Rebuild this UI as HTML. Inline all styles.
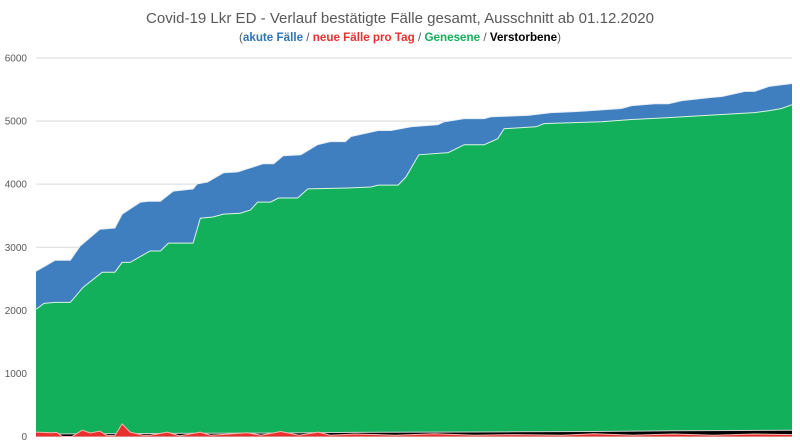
<!DOCTYPE html>
<html><head><meta charset="utf-8"><style>
html,body{margin:0;padding:0;background:#fff;}
svg{display:block;font-family:"Liberation Sans",sans-serif;}
</style></head><body>
<svg id="chart" width="800" height="445" viewBox="0 0 800 445">
<text x="400" y="23" text-anchor="middle" font-size="15" fill="#595959" textLength="508" lengthAdjust="spacingAndGlyphs">Covid-19 Lkr ED - Verlauf bestätigte Fälle gesamt, Ausschnitt ab 01.12.2020</text>
<text x="400" y="41" text-anchor="middle" font-size="12" font-weight="bold" textLength="322" lengthAdjust="spacingAndGlyphs"><tspan fill="#595959" font-weight="normal">(</tspan><tspan fill="#2e75b6">akute Fälle</tspan><tspan fill="#595959" font-weight="normal"> / </tspan><tspan fill="#e8312f">neue Fälle pro Tag</tspan><tspan fill="#595959" font-weight="normal"> / </tspan><tspan fill="#12b05b">Genesene</tspan><tspan fill="#595959" font-weight="normal"> / </tspan><tspan fill="#000">Verstorbene</tspan><tspan fill="#595959" font-weight="normal">)</tspan></text>
<g id="grid"></g><g id="areas"></g><g id="yticks"></g>
</svg>
<script>
const yTicks=[0,1000,2000,3000,4000,5000,6000];
const totalDays=[0,1.1,2.4,4.3,5.5,8,9.9,10.8,13.1,14.1,15.6,17.2,19.7,20.2,21.5,23.5,25.3,26,28.5,29.8,31,33.2,35.3,36.9,38.8,39.5,42.9,44.5,47,50.4,51.2,53.7,56.2,57.1,61.7,64.6,67.5,69.3,73.4,74.7,77.6,79.3,81,84.7,86,88.9,90.1,91.9,94.8];
const totalVals=[2620,2700,2795,2795,3015,3285,3305,3525,3715,3730,3730,3890,3925,4005,4035,4180,4195,4225,4325,4325,4450,4465,4625,4675,4675,4755,4850,4850,4910,4945,4990,5040,5040,5070,5090,5135,5150,5165,5200,5245,5275,5275,5325,5375,5390,5470,5470,5550,5595];
const recDays=[0,1,2.4,4.3,5.9,8.3,9.9,10.8,11.8,14.3,15.6,16.6,19.7,20.6,22.2,23.5,25.6,26.9,27.8,29.4,30.4,32.8,34.1,39.1,42,42.9,45.4,46.4,48,51.7,53.7,56.2,57.9,58.7,62.7,63.7,70.9,74.7,79.3,86,90.1,91.9,93.5,94.8];
const recVals=[2015,2110,2125,2125,2365,2605,2605,2760,2760,2940,2940,3065,3065,3460,3480,3525,3540,3590,3715,3715,3780,3780,3925,3940,3955,3985,3985,4115,4465,4500,4625,4625,4720,4880,4910,4960,4990,5025,5055,5105,5135,5165,5200,5260];
const deathDays=[0,20,30,40,50,60,70,80,88,94.8];
const deathVals=[40,50,55,65,70,75,80,90,95,100];
const newDays=[0,2,2.6,3.3,4.5,5.8,6.8,8,8.9,9.9,10.8,11.8,13.4,14.3,16.5,18,20.6,21.9,26.5,28.2,30.7,33,35.4,36.9,40,45,50,55,60,66,70,75,80,85,90,94.8];
const newVals=[70,60,65,0,0,100,55,85,15,15,200,70,20,20,70,10,70,20,60,20,80,20,70,20,40,20,45,20,30,20,45,20,40,20,40,30];
const X0=36,X1=792,DMAX=94.8,Y0=436.5,YS=(436.5-58)/6000;
const sx=d=>X0+(X1-X0)*d/DMAX, sy=v=>Y0-v*YS;
const NS='http://www.w3.org/2000/svg';
function areaPath(days,vals){let p='M'+sx(days[0])+','+Y0;days.forEach((d,i)=>{p+=' L'+sx(d).toFixed(1)+','+sy(vals[i]).toFixed(1);});return p+' L'+sx(days[days.length-1])+','+Y0+' Z';}
function linePath(days,vals){return days.map((d,i)=>(i?'L':'M')+sx(d).toFixed(1)+','+sy(vals[i]).toFixed(1)).join(' ');}
const grid=document.getElementById('grid'),yt=document.getElementById('yticks'),ar=document.getElementById('areas');
yTicks.forEach(t=>{
 const l=document.createElementNS(NS,'line');
 
 
 l.setAttribute('x1',X0);l.setAttribute('x2',X1);l.setAttribute('y1',sy(t));l.setAttribute('y2',sy(t));l.setAttribute('stroke','#d9d9d9');grid.appendChild(l);
 const tx=document.createElementNS(NS,'text');
 
 
 tx.setAttribute('x',27);tx.setAttribute('y',sy(t)+3.5);tx.setAttribute('text-anchor','end');tx.setAttribute('font-size','10');tx.setAttribute('fill','#595959');tx.textContent=t;yt.appendChild(tx);
});
function addArea(name,days,vals,fill,stroke){
 const p=document.createElementNS(NS,'path');
 
 
 p.setAttribute('d',areaPath(days,vals));p.setAttribute('fill',fill);ar.appendChild(p);
 const l=document.createElementNS(NS,'path');
 
 
 l.setAttribute('d',linePath(days,vals));l.setAttribute('fill','none');l.setAttribute('stroke',stroke);l.setAttribute('stroke-width','1');ar.appendChild(l);
}
addArea('total-area',totalDays,totalVals,'#3f7fc0','#e8eef7');
addArea('recovered-area',recDays,recVals,'#12b05b','#d8f5e0');
addArea('deaths-area',deathDays,deathVals,'#000000','#cfcfcf');
addArea('new-cases-area',newDays,newVals,'#e8312f','#f0b8b0');
</script>
</body></html>
